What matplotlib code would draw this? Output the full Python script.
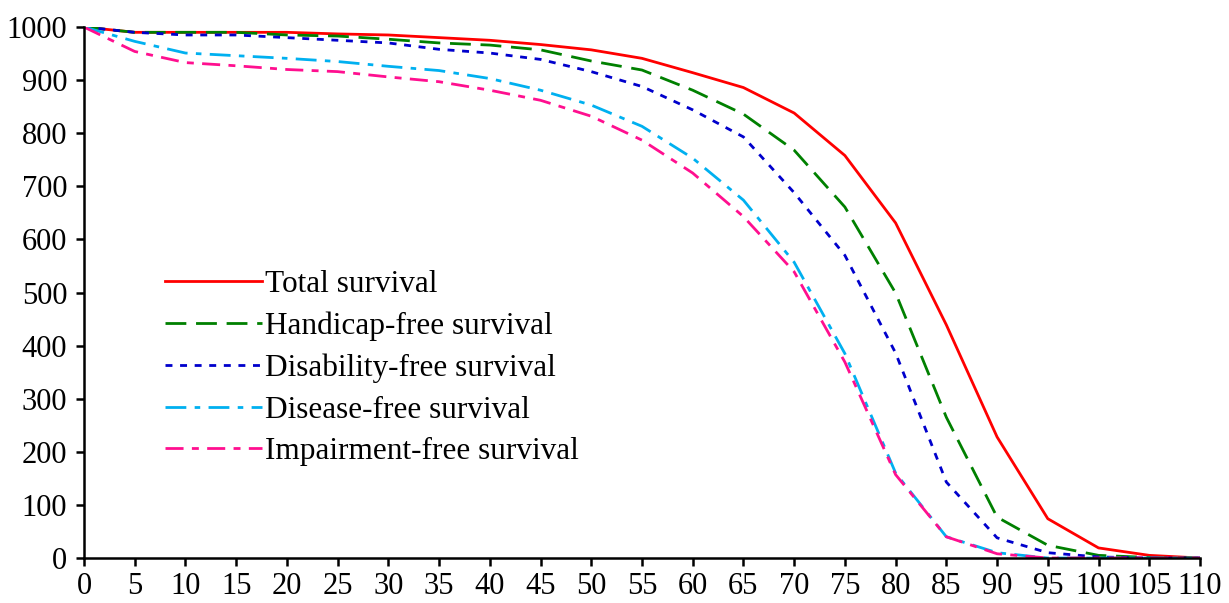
import matplotlib.pyplot as plt

plt.rcParams['font.family'] = 'Liberation Serif'
plt.rcParams['lines.scale_dashes'] = False

age = [0, 5, 10, 15, 20, 25, 30, 35, 40, 45, 50, 55, 60, 65, 70, 75, 80, 85, 90, 95, 100, 105, 110]

total = [1000, 990, 990, 990, 990, 987, 985, 980, 975, 967, 957, 941, 914, 886, 838, 758, 631, 439, 228, 74, 19, 5, 0]
handicap = [1000, 990, 990, 990, 985, 983, 977, 970, 966, 957, 936, 919, 881, 836, 768, 661, 499, 265, 77, 24, 5, 1, 0]
disability = [1000, 990, 985, 985, 980, 975, 970, 958, 951, 939, 916, 888, 844, 793, 688, 570, 386, 143, 38, 10, 2, 0, 0]
disease = [1000, 973, 951, 946, 941, 935, 926, 918, 903, 881, 853, 813, 753, 674, 557, 385, 160, 40, 10, 0, 0, 0, 0]
impairment = [1000, 954, 933, 927, 920, 916, 906, 897, 881, 862, 832, 787, 725, 643, 539, 369, 157, 40, 8, 0, 0, 0, 0]

fig = plt.figure(figsize=(12.29, 6.03), dpi=100)
ax = fig.add_axes([0.0683, 0.0746, 0.9081, 0.8806])

ax.plot(age, total, color='#FF0000', lw=2.0, label='Total survival')
ax.plot(age, handicap, color='#008000', lw=2.0, dashes=(15, 7), label='Handicap-free survival')
ax.plot(age, disability, color='#0000CC', lw=2.0, dashes=(5, 5.5), label='Disability-free survival')
ax.plot(age, disease, color='#00B0F0', lw=2.0, dashes=(15, 6, 4, 6), label='Disease-free survival')
ax.plot(age, impairment, color='#FF0F8F', lw=2.0, dashes=(13, 6, 5, 6), label='Impairment-free survival')

ax.set_xlim(0, 110)
ax.set_ylim(0, 1000)
ax.set_xticks(range(0, 111, 5))
ax.set_yticks(range(0, 1001, 100))
ax.spines['top'].set_visible(False)
ax.spines['right'].set_visible(False)
ax.spines['left'].set_linewidth(1.8)
ax.spines['bottom'].set_linewidth(1.8)
ax.tick_params(labelsize=22, width=1.8, length=6)
ax.tick_params(axis='y', pad=6)
ax.tick_params(axis='x', pad=4)

ax.legend(loc='upper left', bbox_to_anchor=(0.134, 0.552), bbox_transform=fig.transFigure,
          frameon=False, fontsize=22.5, handlelength=3.1, handletextpad=0.1,
          labelspacing=0.40, borderpad=0, borderaxespad=0)

fig.savefig('out.png', dpi=100)
